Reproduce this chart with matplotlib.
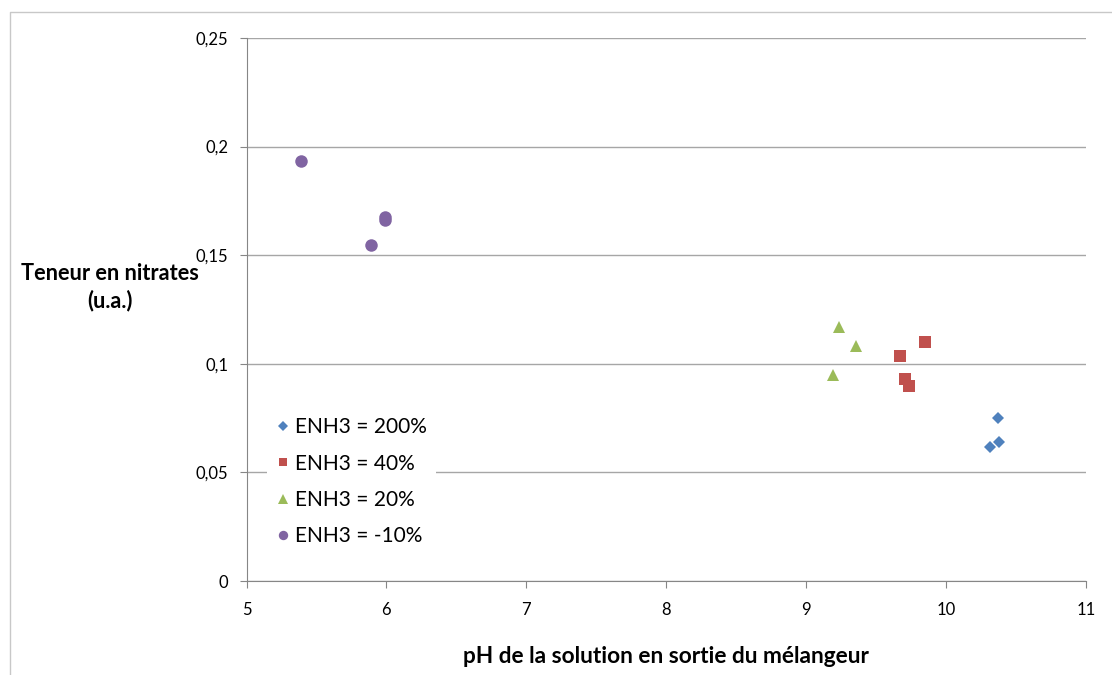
import matplotlib.pyplot as plt
from matplotlib.lines import Line2D
from matplotlib.ticker import FuncFormatter

plt.rcParams['font.family'] = ['Lato', 'DejaVu Sans']

# pH / nitrates par série
ph_200 = [10.37, 10.375, 10.316]
no3_200 = [0.0749, 0.0639, 0.0618]

ph_40 = [9.849, 9.670, 9.704, 9.732]
no3_40 = [0.1102, 0.1037, 0.0930, 0.0896]

ph_20 = [9.234, 9.358, 9.194]
no3_20 = [0.1168, 0.1083, 0.0948]

ph_m10 = [5.393, 5.893, 5.993, 5.993]
no3_m10 = [0.1934, 0.1547, 0.1662, 0.1676]

series = [
    ("ENH3 = 200%", ph_200, no3_200, "D", "#4F81BD", 6.5),
    ("ENH3 = 40%", ph_40, no3_40, "s", "#C0504D", 8.5),
    ("ENH3 = 20%", ph_20, no3_20, "^", "#9BBB59", 9),
    ("ENH3 = -10%", ph_m10, no3_m10, "o", "#8064A2", 9),
]

fig = plt.figure(figsize=(11.12, 6.75), dpi=100)
ax = fig.add_axes([246.5 / 1112, 1 - 581 / 675, (1086 - 246.5) / 1112, (581 - 38) / 675])

for lab, xs, ys, mk, col, ms in series:
    ax.plot(xs, ys, linestyle="none", marker=mk, color=col, markersize=ms,
            markeredgewidth=0, label=lab, zorder=3)

ax.set_xlim(5, 11)
ax.set_ylim(0, 0.25)
ax.set_xticks(range(5, 12))
ax.set_yticks([0, 0.05, 0.1, 0.15, 0.2, 0.25])
ax.yaxis.set_major_formatter(FuncFormatter(lambda v, p: "0" if v == 0 else f"{v:g}".replace(".", ",")))

ax.grid(axis="y", color="#a6a6a6", linewidth=1)
ax.set_axisbelow(True)
for s in ["top", "right"]:
    ax.spines[s].set_visible(False)
for s in ["left", "bottom"]:
    ax.spines[s].set_color("#868686")
ax.tick_params(axis="both", colors="#868686", labelcolor="black", labelsize=12, length=5)
ax.tick_params(axis="x", pad=10)
ax.tick_params(axis="y", pad=8)

ax.set_xlabel("pH de la solution en sortie du mélangeur", fontsize=16.3, fontweight="bold", labelpad=20)
fig.text(110 / 1112, 1 - 287 / 675, "Teneur en nitrates\n(u.a.)", ha="center", va="center",
         fontsize=15.7, fontweight="bold", multialignment="center", linespacing=1.35)

leg = ax.legend(loc="upper left", bbox_to_anchor=(0.012, 0.336), fontsize=15, frameon=True,
                facecolor="white", edgecolor="none", framealpha=1, fancybox=False,
                handlelength=0.7, handletextpad=0.26, labelspacing=0.78, markerscale=0.75,
                borderpad=0.4)

# cadre du graphique
fig.add_artist(Line2D([10 / 1112, 10 / 1112, 1], [0, 1 - 12 / 675, 1 - 12 / 675],
                      color="#c8c8c8", linewidth=1))

fig.savefig("out.png", dpi=100)
